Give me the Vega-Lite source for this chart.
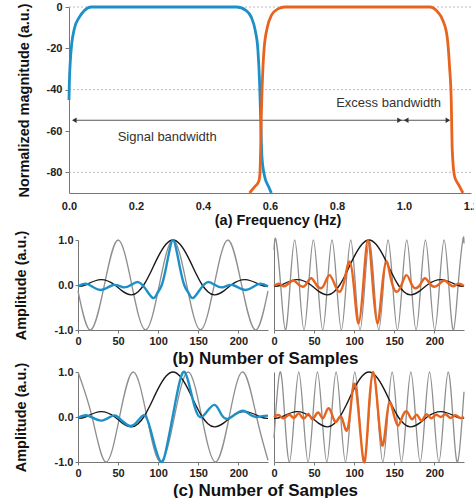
{
"$schema":"https://vega.github.io/schema/vega-lite/v6.json",
"autosize":{"type":"pad"},
"padding":{"left":13,"top":1,"right":0,"bottom":0},
"background":"white",
"config":{"view":{"stroke":null},"font":"Liberation Sans",
"axis":{"labelFont":"Liberation Sans","labelFontSize":11,"labelFontWeight":"bold","labelColor":"#222","titleFont":"Liberation Sans","titleFontSize":14.5,"titleFontWeight":"bold","titleColor":"#111","domainColor":"#777","tickColor":"#777","grid":false,"labelFlush":false}},
"datasets":{
"filt":[
{"x":0.0,"y":-45,"s":"A"},{"x":0.001,"y":-37,"s":"A"},{"x":0.004,"y":-26,"s":"A"},{"x":0.008,"y":-18,"s":"A"},{"x":0.016,"y":-10.5,"s":"A"},{"x":0.031,"y":-4.9,"s":"A"},{"x":0.046,"y":-1.7,"s":"A"},{"x":0.066,"y":0,"s":"A"},{"x":0.5,"y":0,"s":"A"},{"x":0.529,"y":-1.7,"s":"A"},{"x":0.544,"y":-4.9,"s":"A"},{"x":0.556,"y":-11.4,"s":"A"},{"x":0.564,"y":-21,"s":"A"},{"x":0.569,"y":-37,"s":"A"},{"x":0.572,"y":-53,"s":"A"},{"x":0.576,"y":-72.6,"s":"A"},{"x":0.584,"y":-82,"s":"A"},{"x":0.596,"y":-87,"s":"A"},{"x":0.604,"y":-90,"s":"A"},
{"x":0.539,"y":-90,"s":"B"},{"x":0.554,"y":-87,"s":"B"},{"x":0.566,"y":-84.6,"s":"B"},{"x":0.570,"y":-80.6,"s":"B"},{"x":0.572,"y":-69.3,"s":"B"},{"x":0.574,"y":-53,"s":"B"},{"x":0.577,"y":-37,"s":"B"},{"x":0.582,"y":-21,"s":"B"},{"x":0.592,"y":-9.8,"s":"B"},{"x":0.604,"y":-4.1,"s":"B"},{"x":0.624,"y":-0.9,"s":"B"},{"x":0.644,"y":0,"s":"B"},{"x":1.077,"y":0,"s":"B"},{"x":1.101,"y":-2.5,"s":"B"},{"x":1.116,"y":-6.5,"s":"B"},{"x":1.129,"y":-14.6,"s":"B"},{"x":1.136,"y":-29,"s":"B"},{"x":1.141,"y":-45,"s":"B"},{"x":1.144,"y":-69,"s":"B"},{"x":1.151,"y":-82,"s":"B"},{"x":1.163,"y":-86,"s":"B"},{"x":1.176,"y":-90,"s":"B"}
],
"grid":[{"x":0,"x2":1.2,"y":0},{"x":0,"x2":1.2,"y":-40},{"x":0,"x2":1.2,"y":-80}],
"arr":[{"x":0.012,"x2":1.135,"y":-54.8}],
"heads":[{"x":0.016,"y":-54.8,"d":"L"},{"x":0.9866,"y":-54.8,"d":"R"},{"x":1.0066,"y":-54.8,"d":"L"},{"x":1.131,"y":-54.8,"d":"R"}],
"labs":[{"x":0.293,"y":-63.1,"t":"Signal bandwidth"},{"x":0.954,"y":-46.6,"t":"Excess bandwidth"}],
"env":[{"n":0,"v":-0.03},{"n":9,"v":0.0},{"n":28.5,"v":0.12},{"n":46,"v":0},{"n":55,"v":-0.13},{"n":66.3,"v":-0.22},{"n":75,"v":-0.15},{"n":82,"v":0},{"n":90,"v":0.26},{"n":100,"v":0.63},{"n":110,"v":0.91},{"n":118.5,"v":1},{"n":127,"v":0.91},{"n":137,"v":0.63},{"n":147,"v":0.26},{"n":155,"v":0},{"n":162,"v":-0.15},{"n":170.7,"v":-0.22},{"n":182,"v":-0.13},{"n":191,"v":0},{"n":208.5,"v":0.12},{"n":228,"v":0},{"n":237,"v":-0.03}],
"bLg":[{"n":0,"v":-0.13},{"n":15.75,"v":-1},{"n":32.9,"v":0},{"n":50,"v":1},{"n":67.1,"v":0},{"n":84.25,"v":-1},{"n":101.4,"v":0},{"n":118.5,"v":1},{"n":135.6,"v":0},{"n":152.75,"v":-1},{"n":169.9,"v":0},{"n":187,"v":1},{"n":204.1,"v":0},{"n":221.25,"v":-1},{"n":237,"v":-0.13}],
"bLb":[{"n":0,"v":-0.03},{"n":12,"v":0.02},{"n":28,"v":-0.11},{"n":44,"v":0.0},{"n":56,"v":-0.05},{"n":66,"v":0.0},{"n":75,"v":0.065},{"n":84,"v":-0.08},{"n":93.5,"v":-0.29},{"n":99,"v":-0.18},{"n":104.5,"v":0},{"n":110,"v":0.4},{"n":114.5,"v":0.8},{"n":118.5,"v":1},{"n":122.5,"v":0.8},{"n":127,"v":0.4},{"n":132.5,"v":0},{"n":138,"v":-0.18},{"n":143.5,"v":-0.29},{"n":153,"v":-0.08},{"n":162,"v":0.065},{"n":171,"v":0},{"n":181,"v":-0.05},{"n":193,"v":0},{"n":209,"v":-0.11},{"n":225,"v":0.02},{"n":237,"v":-0.03}],
"bRg":[{"n":0,"v":0.78},{"n":2.5,"v":1},{"n":8.3,"v":0},{"n":14.15,"v":-1},{"n":20,"v":0},{"n":25.8,"v":1},{"n":31.6,"v":0},{"n":37.45,"v":-1},{"n":43.3,"v":0},{"n":49.1,"v":1},{"n":54.9,"v":0},{"n":60.75,"v":-1},{"n":66.6,"v":0},{"n":72.4,"v":1},{"n":78.2,"v":0},{"n":84.05,"v":-1},{"n":89.9,"v":0},{"n":95.7,"v":1},{"n":101.5,"v":0},{"n":107.35,"v":-1},{"n":113.2,"v":0},{"n":119,"v":1},{"n":124.8,"v":0},{"n":130.65,"v":-1},{"n":136.5,"v":0},{"n":142.3,"v":1},{"n":148.1,"v":0},{"n":153.95,"v":-1},{"n":159.8,"v":0},{"n":165.6,"v":1},{"n":171.4,"v":0},{"n":177.25,"v":-1},{"n":183.1,"v":0},{"n":188.9,"v":1},{"n":194.7,"v":0},{"n":200.55,"v":-1},{"n":206.4,"v":0},{"n":212.2,"v":1},{"n":218,"v":0},{"n":223.85,"v":-1},{"n":229.7,"v":0},{"n":235.5,"v":1},{"n":237,"v":0.92}],
"bRo":[{"n":0,"v":-0.02},{"n":6,"v":0.03},{"n":12,"v":-0.03},{"n":18,"v":0.03},{"n":24,"v":0.1},{"n":30,"v":0.02},{"n":36,"v":-0.04},{"n":41,"v":0.04},{"n":46.6,"v":0.15},{"n":53,"v":0.0},{"n":59,"v":-0.07},{"n":64,"v":0.06},{"n":69.4,"v":0.22},{"n":76,"v":0.0},{"n":82,"v":-0.15},{"n":88,"v":0.12},{"n":94.4,"v":0.52},{"n":100,"v":-0.1},{"n":105.6,"v":-0.85},{"n":111.5,"v":0.05},{"n":117.3,"v":1.0},{"n":123,"v":0.05},{"n":128.9,"v":-0.85},{"n":134.5,"v":-0.1},{"n":140.1,"v":0.52},{"n":146,"v":0.12},{"n":152.6,"v":-0.15},{"n":159,"v":0.0},{"n":165,"v":0.22},{"n":170.5,"v":0.06},{"n":175.5,"v":-0.07},{"n":182,"v":0.0},{"n":188,"v":0.15},{"n":194,"v":0.04},{"n":200,"v":-0.04},{"n":206,"v":0.02},{"n":212,"v":0.1},{"n":218,"v":0.03},{"n":224,"v":-0.03},{"n":230,"v":0.03},{"n":237,"v":-0.02}],
"cLg":[{"n":0,"v":1},{"n":17.6,"v":0},{"n":34.7,"v":-1},{"n":51.8,"v":0},{"n":68.9,"v":1},{"n":86,"v":0},{"n":103.1,"v":-1},{"n":120.2,"v":0},{"n":137.3,"v":1},{"n":154.4,"v":0},{"n":171.5,"v":-1},{"n":188.6,"v":0},{"n":205.7,"v":1},{"n":222.8,"v":0},{"n":237,"v":-0.96}],
"cLb":[{"n":0,"v":-0.02},{"n":10,"v":0.04},{"n":20,"v":-0.03},{"n":30,"v":-0.08},{"n":40,"v":0.0},{"n":47,"v":0.03},{"n":56,"v":-0.1},{"n":66,"v":-0.2},{"n":75,"v":-0.08},{"n":83,"v":0.04},{"n":90,"v":-0.25},{"n":97,"v":-0.72},{"n":104,"v":-1.0},{"n":110,"v":-0.72},{"n":118,"v":0.0},{"n":126,"v":0.72},{"n":133,"v":1.0},{"n":140,"v":0.62},{"n":146,"v":0.2},{"n":152,"v":0.0},{"n":160,"v":0.1},{"n":170.5,"v":0.27},{"n":179,"v":0.05},{"n":187,"v":-0.04},{"n":196,"v":0.06},{"n":206,"v":0.14},{"n":214,"v":0.06},{"n":222,"v":0.0},{"n":230,"v":0.02},{"n":237,"v":0.03}],
"cRg":[{"n":0,"v":-0.47},{"n":1.8,"v":0},{"n":7.6,"v":1},{"n":13.4,"v":0},{"n":19.25,"v":-1},{"n":25.1,"v":0},{"n":30.9,"v":1},{"n":36.7,"v":0},{"n":42.55,"v":-1},{"n":48.4,"v":0},{"n":54.2,"v":1},{"n":60,"v":0},{"n":65.85,"v":-1},{"n":71.7,"v":0},{"n":77.5,"v":1},{"n":83.3,"v":0},{"n":89.15,"v":-1},{"n":95,"v":0},{"n":100.8,"v":1},{"n":106.6,"v":0},{"n":112.45,"v":-1},{"n":118.3,"v":0},{"n":124.1,"v":1},{"n":129.9,"v":0},{"n":135.75,"v":-1},{"n":141.6,"v":0},{"n":147.4,"v":1},{"n":153.2,"v":0},{"n":159.05,"v":-1},{"n":164.9,"v":0},{"n":170.7,"v":1},{"n":176.5,"v":0},{"n":182.35,"v":-1},{"n":188.2,"v":0},{"n":194,"v":1},{"n":199.8,"v":0},{"n":205.65,"v":-1},{"n":211.5,"v":0},{"n":217.3,"v":1},{"n":223.1,"v":0},{"n":228.95,"v":-1},{"n":234.8,"v":0},{"n":237,"v":0.56}],
"cRo":[{"n":0,"v":0.0},{"n":6,"v":0.04},{"n":12,"v":-0.03},{"n":19,"v":0.05},{"n":25,"v":-0.02},{"n":31,"v":0.08},{"n":37,"v":-0.04},{"n":43,"v":0.07},{"n":48,"v":-0.05},{"n":55,"v":0.1},{"n":61,"v":-0.03},{"n":67.4,"v":0.19},{"n":73,"v":0.02},{"n":78,"v":-0.1},{"n":84,"v":0.0},{"n":90,"v":-0.3},{"n":95,"v":0.1},{"n":100.6,"v":0.74},{"n":107,"v":-0.2},{"n":113,"v":-1.0},{"n":118,"v":0.1},{"n":123.5,"v":1.0},{"n":129.5,"v":0.2},{"n":135,"v":-0.63},{"n":140,"v":-0.1},{"n":144.3,"v":0.33},{"n":149.5,"v":0.05},{"n":154.7,"v":-0.19},{"n":160,"v":0.0},{"n":166,"v":0.12},{"n":172,"v":-0.05},{"n":178,"v":0.05},{"n":184,"v":-0.08},{"n":190,"v":0.06},{"n":196,"v":-0.03},{"n":202,"v":0.05},{"n":208,"v":0.0},{"n":214,"v":0.06},{"n":220,"v":-0.02},{"n":226,"v":0.04},{"n":232,"v":-0.02},{"n":237,"v":0.0}]
},
"spacing":3,
"vconcat":[
{
"width":402,"height":186,
"encoding":{
"x":{"field":"x","type":"quantitative","scale":{"domain":[0,1.2],"nice":false,"zero":false},"axis":{"values":[0,0.2,0.4,0.6,0.8,1.0,1.2],"format":".1f","ticks":false,"tickSize":0,"labelPadding":7,"title":"(a) Frequency (Hz)","titleX":208.5,"titleY":27,"titleBaseline":"middle","titleAlign":"center","domainColor":"#777"}},
"y":{"field":"y","type":"quantitative","scale":{"domain":[-90,0],"nice":false},"axis":{"values":[0,-20,-40,-60,-80],"labelExpr":"datum.value < 0 ? '-' + format(-datum.value, 'd') : format(datum.value, 'd')","tickSize":4,"labelPadding":3,"title":"Normalized magnitude (a.u.)","titlePadding":15}}
},
"layer":[
{"data":{"name":"grid"},"mark":{"type":"rule","color":"#aaaaaa","strokeDash":[2,2],"strokeWidth":0.8},"encoding":{"x2":{"field":"x2"}}},
{"data":{"name":"arr"},"mark":{"type":"rule","color":"#444444","strokeWidth":0.9},"encoding":{"x2":{"field":"x2"}}},
{"data":{"name":"heads"},"mark":{"type":"point","filled":true,"opacity":1,"color":"#333333","size":28},"encoding":{"shape":{"field":"d","type":"nominal","scale":{"domain":["L","R"],"range":["triangle-left","triangle-right"]},"legend":null}}},
{"data":{"name":"labs"},"mark":{"type":"text","fontSize":13,"color":"#333333","font":"Liberation Sans"},"encoding":{"text":{"field":"t"}}},
{"data":{"name":"filt"},"mark":{"type":"line","strokeWidth":2.8,"interpolate":"monotone"},"encoding":{"color":{"field":"s","type":"nominal","scale":{"domain":["A","B"],"range":["#1e90c8","#e8641e"]},"legend":null}}}
]
},
{
"concat":[
{"width":3,"height":90,"data":{"values":[]},"mark":"point","encoding":{}},
{"width":190,"height":90,
"encoding":{
"x":{"field":"n","type":"quantitative","scale":{"domain":[0,237],"nice":false},"axis":{"values":[0,50,100,150,200],"tickSize":3,"labelPadding":2,"title":"(b) Number of Samples","titleX":187,"titleY":28,"titleBaseline":"middle","titleAlign":"center","titleFontSize":17}},
"y":{"field":"v","type":"quantitative","scale":{"domain":[-1,1],"nice":false},"axis":{"values":[-1,0,1],"labelExpr":"datum.value < 0 ? '-' + format(-datum.value, '.1f') : format(datum.value, '.1f')","tickSize":3,"labelPadding":2,"title":"Amplitude (a.u.)","titlePadding":26}}
},
"layer":[
{"data":{"name":"bLg"},"mark":{"type":"line","color":"#8e8e8e","strokeWidth":1.3,"interpolate":"natural"}},
{"data":{"name":"env"},"mark":{"type":"line","color":"#1a1a1a","strokeWidth":1.4,"interpolate":"natural"}},
{"data":{"name":"bLb"},"mark":{"type":"line","color":"#1e90c8","strokeWidth":2.4,"interpolate":"natural"}}
]},
{"width":190,"height":90,
"encoding":{
"x":{"field":"n","type":"quantitative","scale":{"domain":[0,237],"nice":false},"axis":{"values":[0,50,100,150,200],"tickSize":3,"labelPadding":2,"title":null}},
"y":{"field":"v","type":"quantitative","scale":{"domain":[-1,1],"nice":false},"axis":{"labels":false,"ticks":false,"title":null}}
},
"layer":[
{"data":{"name":"bRg"},"mark":{"type":"line","color":"#8e8e8e","strokeWidth":1.3,"interpolate":"natural"}},
{"data":{"name":"env"},"mark":{"type":"line","color":"#1a1a1a","strokeWidth":1.4,"interpolate":"natural"}},
{"data":{"name":"bRo"},"mark":{"type":"line","color":"#e8641e","strokeWidth":2.4,"interpolate":"natural"}}
]},
{"width":3,"height":90,"data":{"values":[]},"mark":"point","encoding":{}},
{"width":190,"height":90,
"encoding":{
"x":{"field":"n","type":"quantitative","scale":{"domain":[0,237],"nice":false},"axis":{"values":[0,50,100,150,200],"tickSize":3,"labelPadding":2,"title":"(c) Number of Samples","titleX":187,"titleY":28,"titleBaseline":"middle","titleAlign":"center","titleFontSize":17}},
"y":{"field":"v","type":"quantitative","scale":{"domain":[-1,1],"nice":false},"axis":{"values":[-1,0,1],"labelExpr":"datum.value < 0 ? '-' + format(-datum.value, '.1f') : format(datum.value, '.1f')","tickSize":3,"labelPadding":2,"title":"Amplitude (a.u.)","titlePadding":26}}
},
"layer":[
{"data":{"name":"cLg"},"mark":{"type":"line","color":"#8e8e8e","strokeWidth":1.3,"interpolate":"natural"}},
{"data":{"name":"env"},"mark":{"type":"line","color":"#1a1a1a","strokeWidth":1.4,"interpolate":"natural"}},
{"data":{"name":"cLb"},"mark":{"type":"line","color":"#1e90c8","strokeWidth":2.4,"interpolate":"natural"}}
]},
{"width":190,"height":90,
"encoding":{
"x":{"field":"n","type":"quantitative","scale":{"domain":[0,237],"nice":false},"axis":{"values":[0,50,100,150,200],"tickSize":3,"labelPadding":2,"title":null}},
"y":{"field":"v","type":"quantitative","scale":{"domain":[-1,1],"nice":false},"axis":{"labels":false,"ticks":false,"title":null}}
},
"layer":[
{"data":{"name":"cRg"},"mark":{"type":"line","color":"#8e8e8e","strokeWidth":1.3,"interpolate":"natural"}},
{"data":{"name":"env"},"mark":{"type":"line","color":"#1a1a1a","strokeWidth":1.4,"interpolate":"natural"}},
{"data":{"name":"cRo"},"mark":{"type":"line","color":"#e8641e","strokeWidth":2.4,"interpolate":"natural"}}
]}
],
"columns":3,"bounds":"flush","align":"each","spacing":{"row":42,"column":6}
}
]
}
